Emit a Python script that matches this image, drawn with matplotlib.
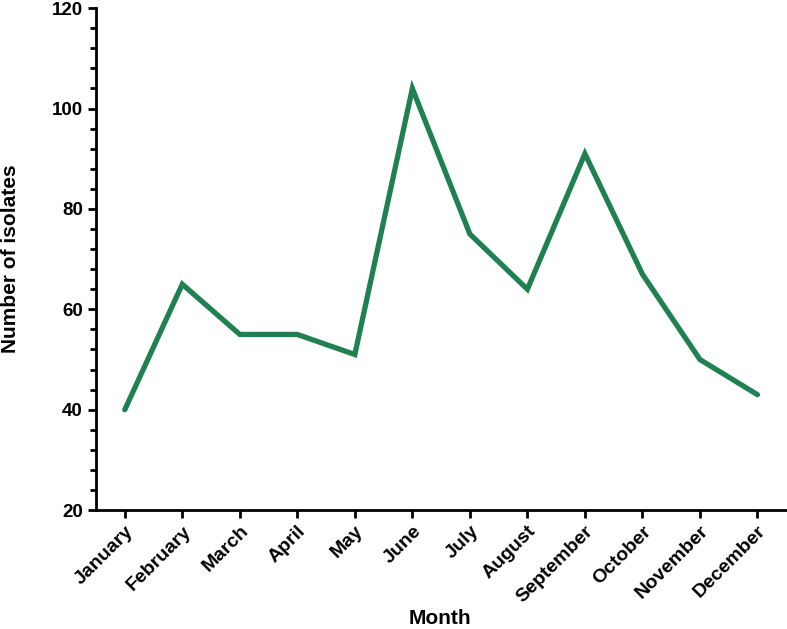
import matplotlib.pyplot as plt
from matplotlib.ticker import MultipleLocator

months = ["January", "February", "March", "April", "May", "June", "July",
          "August", "September", "October", "November", "December"]
isolates = [40, 65, 55, 55, 51, 104, 75, 64, 91, 67, 50, 43]

plt.rcParams['font.family'] = ['Liberation Sans', 'DejaVu Sans']
plt.rcParams['font.weight'] = 'bold'

fig = plt.figure(figsize=(7.87, 6.29), dpi=100)
ax = fig.add_axes([0.122, 0.189, 0.877, 0.798])
ax.plot(range(len(months)), isolates, color='#1f8052', linewidth=3.8,
        solid_capstyle='round', solid_joinstyle='miter')

ax.set_xlim(-0.5, 11.5)
ax.set_ylim(20, 120)
ax.yaxis.set_major_locator(MultipleLocator(20))
ax.yaxis.set_minor_locator(MultipleLocator(4))
ax.set_xticks(range(len(months)))
ax.set_xticklabels(months, rotation=45, ha='right', rotation_mode='anchor',
                   fontsize=14, fontweight='bold')
for lab in ax.get_yticklabels():
    lab.set_fontsize(13.5)
    lab.set_fontweight('bold')

for s in ['top', 'right']:
    ax.spines[s].set_visible(False)
for s in ['left', 'bottom']:
    ax.spines[s].set_linewidth(2)
ax.tick_params(which='major', direction='out', width=2, length=6)
ax.tick_params(which='minor', direction='out', width=2, length=4)
ax.tick_params(axis='x', pad=3)

ax.set_ylabel("Number of isolates", fontsize=15, fontweight='bold')
ax.set_xlabel("Month", fontsize=15, fontweight='bold')
ax.yaxis.set_label_coords(-0.137, 0.5)
ax.yaxis.label.set_verticalalignment('top')
ax.xaxis.set_label_coords(0.499, -0.197)

fig.savefig("out.png", dpi=100)
